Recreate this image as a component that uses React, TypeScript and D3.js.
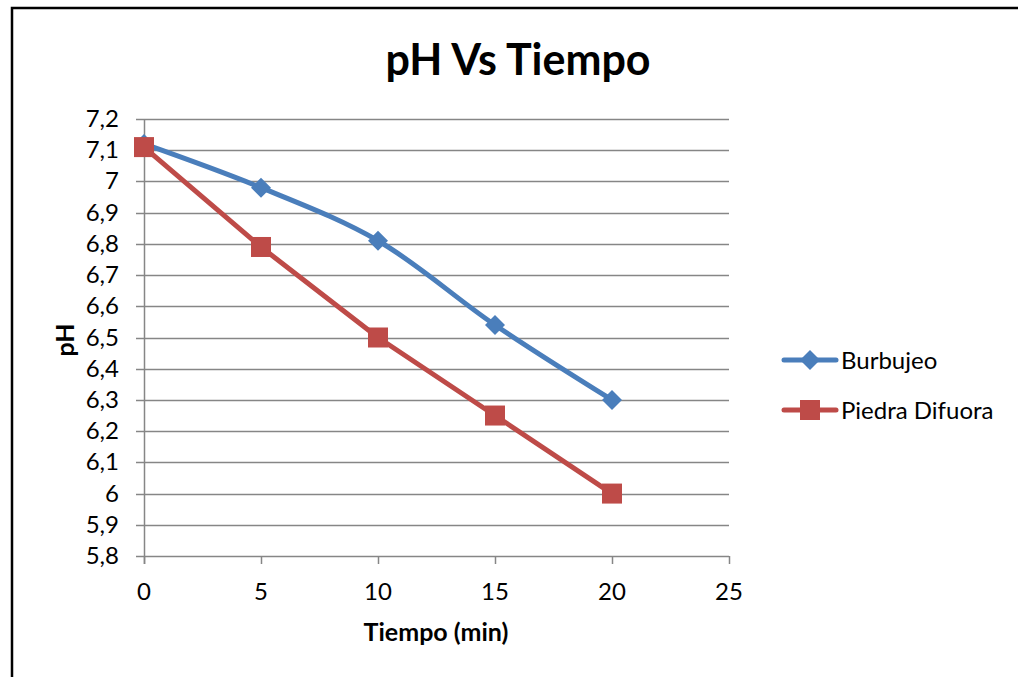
import React from "react";
import * as d3 from "d3";

const minutes = [0, 5, 10, 15, 20];
const burbujeo = [7.12, 6.98, 6.81, 6.54, 6.3];
const piedraDifuora = [7.11, 6.79, 6.5, 6.25, 6.0];
const yTicks = [5.8, 5.9, 6.0, 6.1, 6.2, 6.3, 6.4, 6.5, 6.6, 6.7, 6.8, 6.9, 7.0, 7.1, 7.2];
const xTicks = [0, 5, 10, 15, 20, 25];
const seriesNames = ["Burbujeo", "Piedra Difuora"];

const W = 1018;
const H = 677;
const FONT = "Lato, Calibri, sans-serif";
const BLUE = "#4a7ebb";
const RED = "#be4b48";
const GRID = "#868686";

const fmt = (v: number) => {
  const s = d3.format(".1f")(v);
  return (s.endsWith(".0") ? s.slice(0, -2) : s).replace(".", ",");
};

export default function App() {
  const x = d3.scaleLinear().domain([0, 25]).range([144, 729]);
  const y = d3.scaleLinear().domain([5.8, 7.2]).range([556, 119]);

  const smooth = d3
    .line<[number, number]>()
    .x((d) => x(d[0]))
    .y((d) => y(d[1]))
    .curve(d3.curveCatmullRom.alpha(0.5));
  const straight = d3
    .line<[number, number]>()
    .x((d) => x(d[0]))
    .y((d) => y(d[1]));

  const bPts: [number, number][] = minutes.map((m, i) => [m, burbujeo[i]]);
  const pPts: [number, number][] = minutes.map((m, i) => [m, piedraDifuora[i]]);

  const diamond = (cx: number, cy: number, r: number) =>
    `M${cx},${cy - r}L${cx + r},${cy}L${cx},${cy + r}L${cx - r},${cy}Z`;

  return (
    <svg
      width={W}
      height={H}
      style={{ position: "absolute", left: 0, top: 0, background: "#fff" }}
      fontFamily={FONT}
    >
      <rect x={0} y={0} width={W} height={H} fill="#fff" />
      {/* chart frame */}
      <path d={`M12,${H + 5}V8H${W + 5}`} fill="none" stroke="#000" strokeWidth={2.5} />

      <text x={518} y={75} textAnchor="middle" fontSize={43} fontWeight="bold" fill="#000">
        pH Vs Tiempo
      </text>

      {/* horizontal gridlines and y ticks */}
      {yTicks.map((t) => (
        <g key={t}>
          <line x1={136} x2={729} y1={Math.round(y(t)) + 0.5} y2={Math.round(y(t)) + 0.5} stroke={GRID} strokeWidth={1.3} />
          <text x={119} y={y(t) + 8} textAnchor="end" fontSize={24} fill="#000">
            {fmt(t)}
          </text>
        </g>
      ))}

      {/* y axis line */}
      <line x1={144.5} x2={144.5} y1={119} y2={564} stroke={GRID} strokeWidth={1.5} />
      {/* x ticks */}
      {xTicks.map((t) => (
        <g key={t}>
          <line x1={Math.round(x(t)) + 0.5} x2={Math.round(x(t)) + 0.5} y1={556} y2={564} stroke={GRID} strokeWidth={1.5} />
          <text x={x(t)} y={600} textAnchor="middle" fontSize={24} fill="#000">
            {t}
          </text>
        </g>
      ))}

      <text x={436} y={641} textAnchor="middle" fontSize={25} fontWeight="bold" fill="#000">
        Tiempo (min)
      </text>
      <text
        transform={`translate(74,340) rotate(-90)`}
        textAnchor="middle"
        fontSize={25}
        fontWeight="bold"
        fill="#000"
      >
        pH
      </text>

      {/* series lines */}
      <path d={smooth(bPts) ?? ""} fill="none" stroke={BLUE} strokeWidth={5} strokeLinejoin="round" strokeLinecap="round" />
      <path d={straight(pPts) ?? ""} fill="none" stroke={RED} strokeWidth={5} strokeLinejoin="round" strokeLinecap="round" />

      {/* markers */}
      {bPts.map((d, i) => (
        <path key={"b" + i} d={diamond(x(d[0]), y(d[1]), 10)} fill={BLUE} />
      ))}
      {pPts.map((d, i) => (
        <rect key={"p" + i} x={x(d[0]) - 10} y={y(d[1]) - 10} width={20} height={20} fill={RED} />
      ))}

      {/* legend */}
      {seriesNames.map((name, i) => {
        const ly = 360 + i * 50;
        const color = i === 0 ? BLUE : RED;
        return (
          <g key={name}>
            <line x1={784} x2={836} y1={ly} y2={ly} stroke={color} strokeWidth={5} strokeLinecap="round" />
            {i === 0 ? (
              <path d={diamond(810, ly, 10)} fill={color} />
            ) : (
              <rect x={800} y={ly - 10} width={20} height={20} fill={color} />
            )}
            <text x={841} y={ly + 9} fontSize={24} fill="#000">
              {name}
            </text>
          </g>
        );
      })}
    </svg>
  );
}
